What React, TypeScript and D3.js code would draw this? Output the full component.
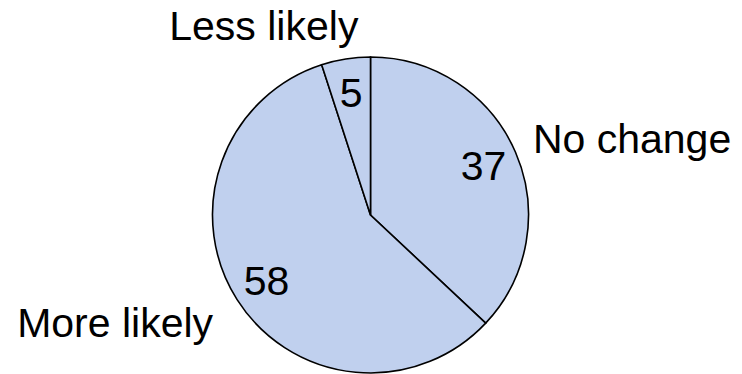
import React from "react";
import * as d3 from "d3";

// Survey shares, clockwise from 12 o'clock
const categories = ["No change", "More likely", "Less likely"];
const values = [37, 58, 5];

// Per-label nudges for the outside category names (text-anchor, dx, dy)
const outerAnchor = ["start", "end", "middle"];
const outerDx = [0, -8, -79];
const outerDy = [8, 27, 0];

const W = 742;
const H = 374;
const cx = 370.5;
const cy = 215;
const radius = 158;
const FILL = "#C0D0EE";
const FONT = "'Liberation Sans', Arial, Helvetica, sans-serif";
const FONT_SIZE = 41;

export default function App() {
  const pie = d3
    .pie<number>()
    .sort(null)
    .startAngle(0)
    .endAngle(2 * Math.PI)
    .value((d) => d);
  const arcs = pie(values);

  const arc = d3.arc<d3.PieArcDatum<number>>().innerRadius(0).outerRadius(radius);
  const inner = d3
    .arc<d3.PieArcDatum<number>>()
    .innerRadius(radius * 0.78)
    .outerRadius(radius * 0.78);
  const outer = d3
    .arc<d3.PieArcDatum<number>>()
    .innerRadius(radius * 1.12)
    .outerRadius(radius * 1.12);

  return (
    <svg
      width={W}
      height={H}
      style={{ position: "absolute", left: 0, top: 0, background: "#fff" }}
    >
      <g transform={`translate(${cx},${cy})`}>
        {arcs.map((a, i) => (
          <path
            key={categories[i]}
            d={arc(a) || ""}
            fill={FILL}
            stroke="#000"
            strokeWidth={1.6}
            strokeLinejoin="miter"
          />
        ))}
        {arcs.map((a, i) => {
          const [x, y] = inner.centroid(a);
          return (
            <text
              key={`v-${i}`}
              x={x}
              y={y}
              textAnchor="middle"
              dominantBaseline="central"
              fontFamily={FONT}
              fontSize={FONT_SIZE}
              fill="#000"
            >
              {values[i]}
            </text>
          );
        })}
        {arcs.map((a, i) => {
          const [x, y] = outer.centroid(a);
          return (
            <text
              key={`c-${i}`}
              x={x + outerDx[i]}
              y={y + outerDy[i]}
              textAnchor={outerAnchor[i] as any}
              fontFamily={FONT}
              fontSize={FONT_SIZE}
              fill="#000"
            >
              {categories[i]}
            </text>
          );
        })}
      </g>
    </svg>
  );
}
